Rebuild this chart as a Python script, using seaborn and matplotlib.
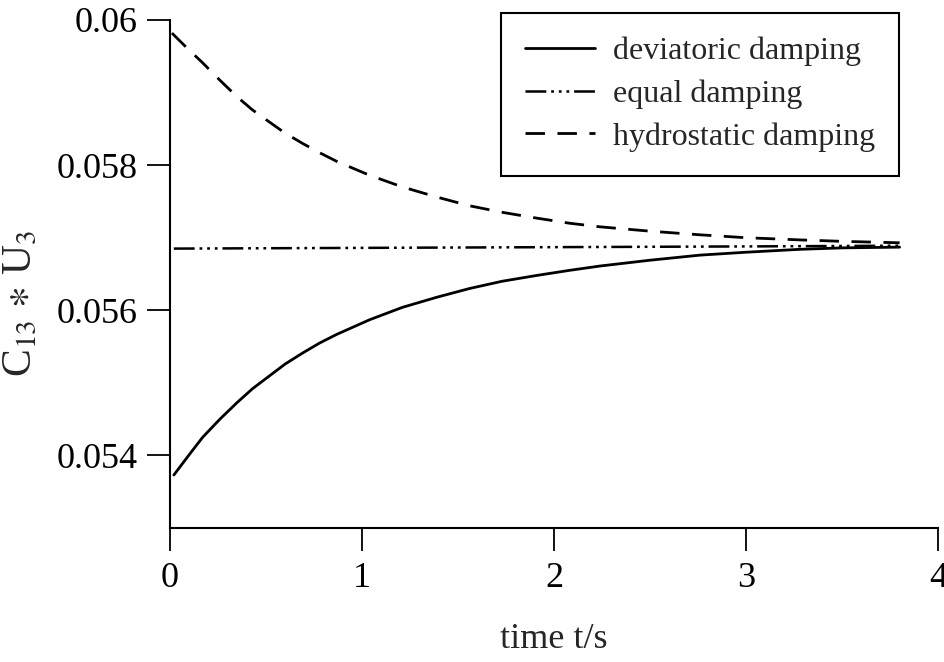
import numpy as np
import pandas as pd
import matplotlib
matplotlib.use("Agg")
import matplotlib.pyplot as plt
import seaborn as sns

# values
time_dev = [0.02, 0.10, 0.17, 0.26, 0.35, 0.43, 0.52, 0.60, 0.69, 0.78, 0.87,
            1.04, 1.21, 1.39, 1.56, 1.73, 1.91, 2.08, 2.24, 2.50, 2.76,
            3.00, 3.28, 3.50, 3.80]
deviatoric = [0.05373, 0.05401, 0.05425, 0.05450, 0.05473, 0.05492, 0.05510,
              0.05526, 0.05541, 0.05555, 0.05567, 0.05587, 0.05604, 0.05618,
              0.05630, 0.05640, 0.05648, 0.05655, 0.05661, 0.05669, 0.05676,
              0.05680, 0.05684, 0.05686, 0.05687]

time_eq = [0.02, 1.0, 2.0, 3.0, 3.80]
equal = [0.05685, 0.05686, 0.05687, 0.05688, 0.05689]

time_hyd = [0.01, 0.09, 0.17, 0.26, 0.35, 0.43, 0.52, 0.60, 0.69, 0.78, 0.87,
            1.04, 1.21, 1.39, 1.56, 1.73, 1.91, 2.08, 2.24, 2.50, 2.76,
            3.00, 3.28, 3.50, 3.80]
hydrostatic = [0.05982, 0.05961, 0.05941, 0.05917, 0.05894, 0.05876, 0.05859,
               0.05844, 0.05830, 0.05817, 0.05805, 0.05786, 0.05770, 0.05756,
               0.05744, 0.05735, 0.05727, 0.05720, 0.05715, 0.05709, 0.05704,
               0.05700, 0.05697, 0.05695, 0.05693]

labels = ["deviatoric damping", "equal damping", "hydrostatic damping"]
x_ticks = [0, 1, 2, 3, 4]
x_ticklabels = ["0", "1", "2", "3", "4"]
y_ticks = [0.054, 0.056, 0.058, 0.06]
y_ticklabels = ["0.054", "0.056", "0.058", "0.06"]

sns.set_style("ticks")
plt.rcParams["font.family"] = ["Liberation Serif", "DejaVu Serif"]
plt.rcParams["mathtext.fontset"] = "stix"
plt.rcParams["lines.scale_dashes"] = False

fig = plt.figure(figsize=(9.44, 6.62), dpi=100)
ax = fig.add_axes([170 / 944, 1 - 528 / 662, 768 / 944, 508 / 662])

df_dev = pd.DataFrame({"t": time_dev, "v": deviatoric})
df_eq = pd.DataFrame({"t": time_eq, "v": equal})
df_hyd = pd.DataFrame({"t": time_hyd, "v": hydrostatic})

sns.lineplot(data=df_dev, x="t", y="v", ax=ax, color="black", lw=2.0,
             linestyle="-", label=labels[0])
sns.lineplot(data=df_eq, x="t", y="v", ax=ax, color="black", lw=1.8,
             linestyle=(0, (15, 3.5, 2, 3.5, 2, 3.5, 2, 3.5)), label=labels[1])
sns.lineplot(data=df_hyd, x="t", y="v", ax=ax, color="black", lw=2.0,
             linestyle=(0, (14, 9)), label=labels[2])

ax.set_xlim(0, 4)
ax.set_ylim(0.053, 0.060)
ax.set_xticks(x_ticks)
ax.set_xticklabels(x_ticklabels)
ax.set_yticks(y_ticks)
ax.set_yticklabels(y_ticklabels)

sns.despine(ax=ax)
for s in ["left", "bottom"]:
    ax.spines[s].set_linewidth(1.5)
    ax.spines[s].set_color("black")
ax.tick_params(axis="both", direction="out", length=16.5, width=1.3,
               labelsize=26, color="black", labelcolor="black")
ax.tick_params(axis="y", pad=7)
ax.tick_params(axis="x", pad=8)

ax.set_xlabel("time t/s", fontsize=26, labelpad=20)
ax.set_ylabel(r"C$_{13}$ $\ast$ U$_3$", fontsize=30)
ax.yaxis.set_label_coords(-0.169, 0.443)

leg = ax.legend(loc="upper right", bbox_to_anchor=(899 / 944, 1 - 13 / 662),
                bbox_transform=fig.transFigure, fontsize=23, frameon=True,
                fancybox=False, framealpha=1, edgecolor="black",
                handlelength=2.2, handletextpad=0.55, borderpad=0.75,
                labelspacing=0.41, borderaxespad=0)
leg.get_frame().set_linewidth(1.5)

fig.savefig("out.png", dpi=100)
